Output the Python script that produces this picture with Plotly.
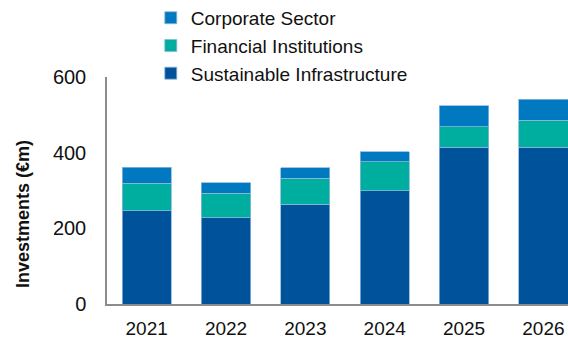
import plotly.graph_objects as go

years = ["2021", "2022", "2023", "2024", "2025", "2026"]
sustainable_infrastructure = [246, 228, 264, 300, 414, 414]
financial_institutions = [73, 65, 68, 76, 54, 72]
corporate_sector = [42, 27, 28, 26, 56, 55]

series = [
    ("Sustainable Infrastructure", sustainable_infrastructure, "#00529B"),
    ("Financial Institutions", financial_institutions, "#00AE9F"),
    ("Corporate Sector", corporate_sector, "#0079C1"),
]

font_family = "Liberation Sans, Arial, sans-serif"

fig = go.Figure()
for name, values, color in series:
    fig.add_trace(go.Bar(
        x=years, y=values, name=name,
        marker=dict(color=color, line=dict(color="#8db6db", width=0.8)),
        width=0.62,
    ))

fig.update_layout(
    width=568, height=338,
    barmode="stack",
    plot_bgcolor="white", paper_bgcolor="white",
    margin=dict(l=107, r=0, t=77, b=34, autoexpand=False),
    font=dict(family=font_family, size=18, color="#111111"),
    showlegend=True,
    legend=dict(
        traceorder="reversed",
        x=0.095, y=1.344, xref="paper", yref="paper",
        xanchor="left", yanchor="top",
        font=dict(size=19, family=font_family, color="#111111"),
        itemwidth=30, tracegroupgap=0,
        bgcolor="rgba(0,0,0,0)",
    ),
    xaxis=dict(
        range=[-0.5, 5.31],
        showgrid=False, showline=True, linecolor="#8c8c8c", linewidth=2,
        ticks="", ticklabelstandoff=6, tickangle=0,
        tickfont=dict(size=19),
    ),
    yaxis=dict(
        range=[0, 600], tickvals=[0, 200, 400, 600],
        showgrid=False, showline=True, linecolor="#8c8c8c", linewidth=1.5,
        ticks="", ticklabelstandoff=15, zeroline=False,
        tickfont=dict(size=20),
    ),
    annotations=[dict(
        text="<b>Investments (€m)</b>",
        xref="paper", yref="paper", x=-0.182, y=0.397,
        xanchor="center", yanchor="middle",
        textangle=-90, showarrow=False,
        font=dict(size=18, family=font_family, color="#111111"),
    )],
)

fig.write_html("out.html")
